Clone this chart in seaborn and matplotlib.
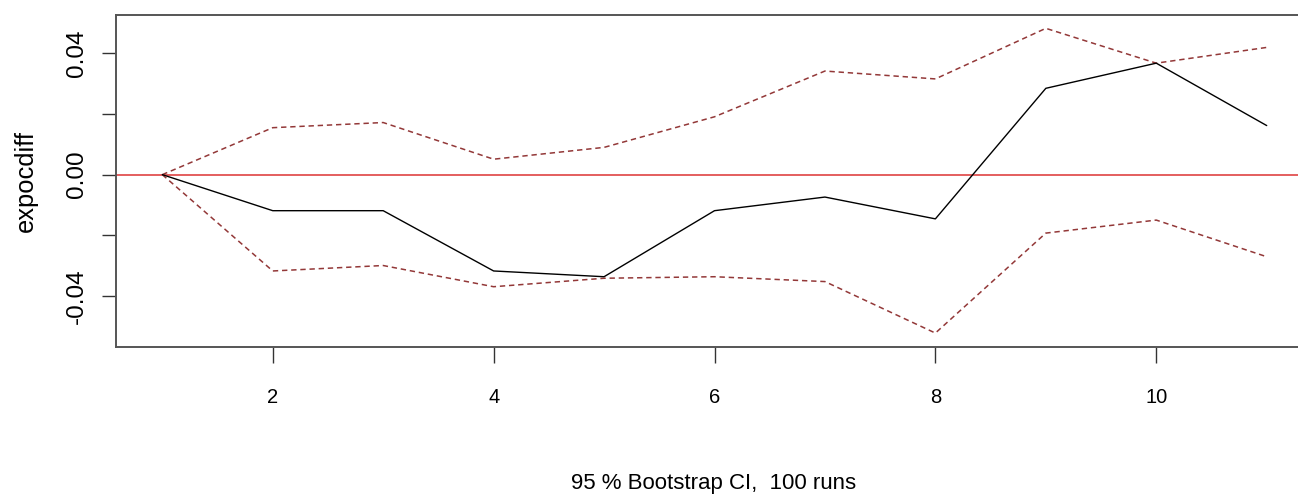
import numpy as np
import pandas as pd
import matplotlib
matplotlib.use("Agg")
import matplotlib.pyplot as plt
from matplotlib import font_manager
import seaborn as sns

# impulse response
steps = [1, 2, 3, 4, 5, 6, 7, 8, 9, 10, 11]
irf = [0.0, -0.0119, -0.0119, -0.0318, -0.0337, -0.0119, -0.0074, -0.0146, 0.0285, 0.0368, 0.0162]
upper = [0.0, 0.0155, 0.0172, 0.0051, 0.0090, 0.0191, 0.0342, 0.0316, 0.0483, 0.0368, 0.0420]
lower = [0.0, -0.0318, -0.0300, -0.0370, -0.0342, -0.0337, -0.0353, -0.0523, -0.0193, -0.0150, -0.0271]

xticks = [2, 4, 6, 8, 10]
yticks = [-0.04, -0.02, 0.0, 0.02, 0.04]
ytick_labels = ["-0.04", "", "0.00", "", "0.04"]
xlab = "95 % Bootstrap CI,  100 runs"
ylab = "expocdiff"

sns.set_theme(style="white", rc={"text.color": "black", "axes.labelcolor": "black",
                                 "xtick.color": "black", "ytick.color": "black"})

try:
    font_manager.findfont("Liberation Sans Narrow", fallback_to_default=False)
    narrow = "Liberation Sans Narrow"
    tick_size, xlab_size = 16.3, 19
except ValueError:
    narrow = "Liberation Sans"
    tick_size, xlab_size = 14.5, 16
plt.rcParams["font.family"] = ["Liberation Sans", "DejaVu Sans"]

df = pd.DataFrame({"step": steps, "irf": irf, "upper": upper, "lower": lower})

fig = plt.figure(figsize=(12.98, 5.01), dpi=100)
W, H = 1298, 501
left_px, top_px, bottom_px = 115.7, 14.7, 346.7
xmin, xmax = 0.578, 11.42
px_per_unit = 110.44
width_px = (xmax - xmin) * px_per_unit
ax = fig.add_axes([left_px / W, 1 - bottom_px / H, width_px / W, (bottom_px - top_px) / H])

ax.axhline(0, color="#dd3333", lw=1.1, zorder=1)
sns.lineplot(data=df, x="step", y="upper", ax=ax, color="#933838", lw=1.1,
             linestyle=(0, (3.5, 2.5)))
sns.lineplot(data=df, x="step", y="lower", ax=ax, color="#933838", lw=1.1,
             linestyle=(0, (3.5, 2.5)))
sns.lineplot(data=df, x="step", y="irf", ax=ax, color="black", lw=1.0)

ax.set_xlim(xmin, xmax)
ax.set_ylim(-0.0568, 0.0528)
ax.set_xticks(xticks)
ax.set_xticklabels([str(t) for t in xticks], family=[narrow, "DejaVu Sans"], fontsize=tick_size)
ax.set_yticks(yticks)
ax.set_yticklabels(ytick_labels, rotation=90, va="center", fontsize=17.5)
ax.tick_params(axis="x", direction="out", length=11.5, width=1.0, color="#333333", pad=18.5, bottom=True)
ax.tick_params(axis="y", direction="out", length=10, width=1.0, color="#333333", pad=10, left=True)

for side in ["left", "bottom", "top", "right"]:
    ax.spines[side].set_visible(True)
    ax.spines[side].set_color("#555555")
    ax.spines[side].set_linewidth(1.4)

ax.set_xlabel(xlab, family=[narrow, "DejaVu Sans"], fontsize=xlab_size, va="center")
ax.xaxis.set_label_coords((713.5 - left_px) / width_px, (bottom_px - 483) / (bottom_px - top_px))
ax.set_ylabel(ylab, fontsize=18.4, va="center")
ax.yaxis.set_label_coords((26 - left_px) / width_px, (bottom_px - 180.5) / (bottom_px - top_px))

fig.savefig("out.png", dpi=100)
